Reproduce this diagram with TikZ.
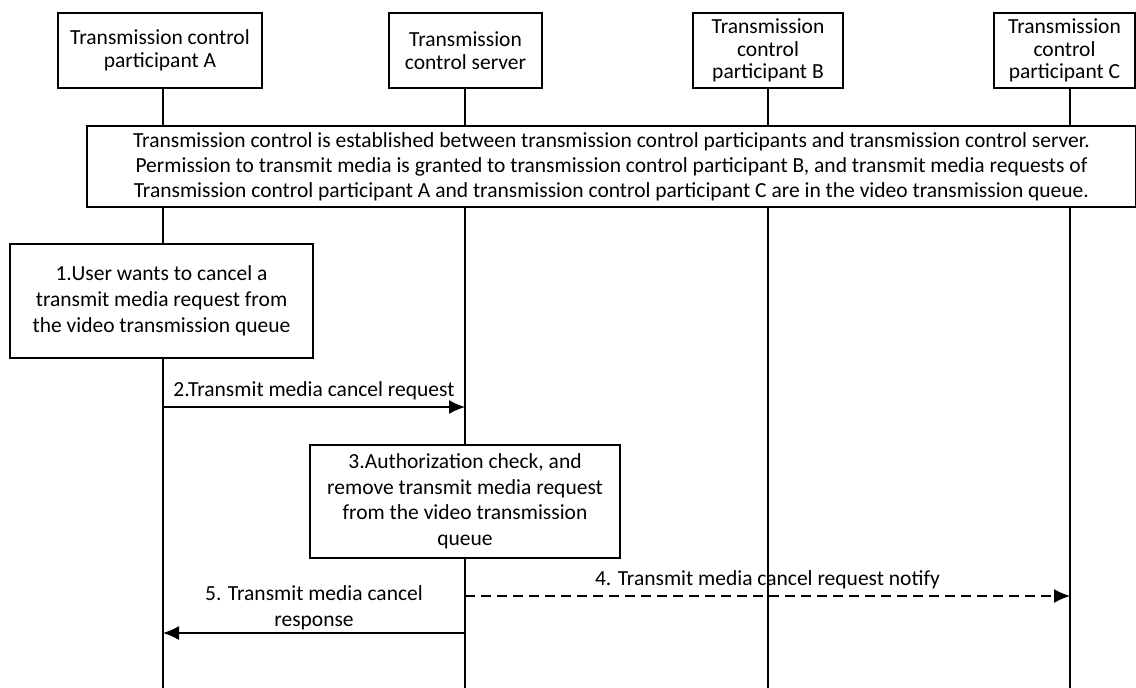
\documentclass[tikz,border=0pt]{standalone}
\usepackage{fontspec}
\setmainfont{Carlito}
\usetikzlibrary{arrows.meta}

\begin{document}
\begin{tikzpicture}[x=1pt,y=-1pt,>={Latex[length=16pt,width=14pt]},line width=1.3pt,
        box/.style={draw, rectangle, fill=white, inner sep=0pt, align=center, font=\fontsize{21.5}{25}\selectfont},
        hdr/.style={box, minimum height=75pt, font=\fontsize{21.5}{22.5}\selectfont},
        msg/.style={inner sep=2pt, align=center, font=\fontsize{21.5}{26}\selectfont}]
        \fill[white] (0,0) rectangle (1136,688);
        \useasboundingbox (0,0) rectangle (1136,688);

        % lifeline ends at the bottom
        \coordinate (aBot) at (163,688);
        \coordinate (sBot) at (465,688);
        \coordinate (bBot) at (768,688);
        \coordinate (cBot) at (1070,688);

        \node (partA) [hdr, minimum width=204pt] at (160,50.5) {Transmission control\\participant A};
        \node (server) [hdr, minimum width=153pt] at (465.5,50.5) {Transmission\\control server};
        \node (partB) [hdr, minimum width=150pt] at (768,50.5) {Transmission\\control\\participant B};
        \node (partC) [hdr, minimum width=141pt] at (1064.5,50.5) {Transmission\\control\\participant C};

        \draw (partA.south -| aBot) -- (aBot);
        \draw (server.south -| sBot) -- (sBot);
        \draw (partB.south -| bBot) -- (bBot);
        \draw (partC.south -| cBot) -- (cBot);

        \node (setup) [box, minimum width=1049pt, minimum height=81pt, font=\fontsize{21.5}{25}\selectfont] at (611.5,166.5)
            {Transmission control is established between transmission control participants and transmission control server.\\
             Permission to transmit media is granted to transmission control participant B, and transmit media requests of\\
             Transmission control participant A and transmission control participant C are in the video transmission queue.};

        \node (cancel) [box, minimum width=303pt, minimum height=114pt, font=\fontsize{21.5}{26}\selectfont] at (161.5,301)
            {1.User wants to cancel a\\transmit media request from\\the video transmission queue};

        \node (check) [box, minimum width=310pt, minimum height=113pt, font=\fontsize{21.5}{25.5}\selectfont] at (465,501.5)
            {3.Authorization check, and\\remove transmit media request\\from the video transmission\\queue};

        % message rows
        \coordinate (row2) at (0,407);
        \coordinate (row4) at (0,596);
        \coordinate (row5) at (0,633);

        \draw[->] (aBot |- row2) -- node[msg, above=4pt] {2.Transmit media cancel request} (sBot |- row2);
        \draw[->, dash pattern=on 10pt off 6pt] (sBot |- row4) -- node[msg, above=4pt] {4. Transmit media cancel request notify} (cBot |- row4);
        \draw[->] (sBot |- row5) -- node[msg, above] {5. Transmit media cancel\\response} (aBot |- row5);
    \end{tikzpicture}
\end{document}
